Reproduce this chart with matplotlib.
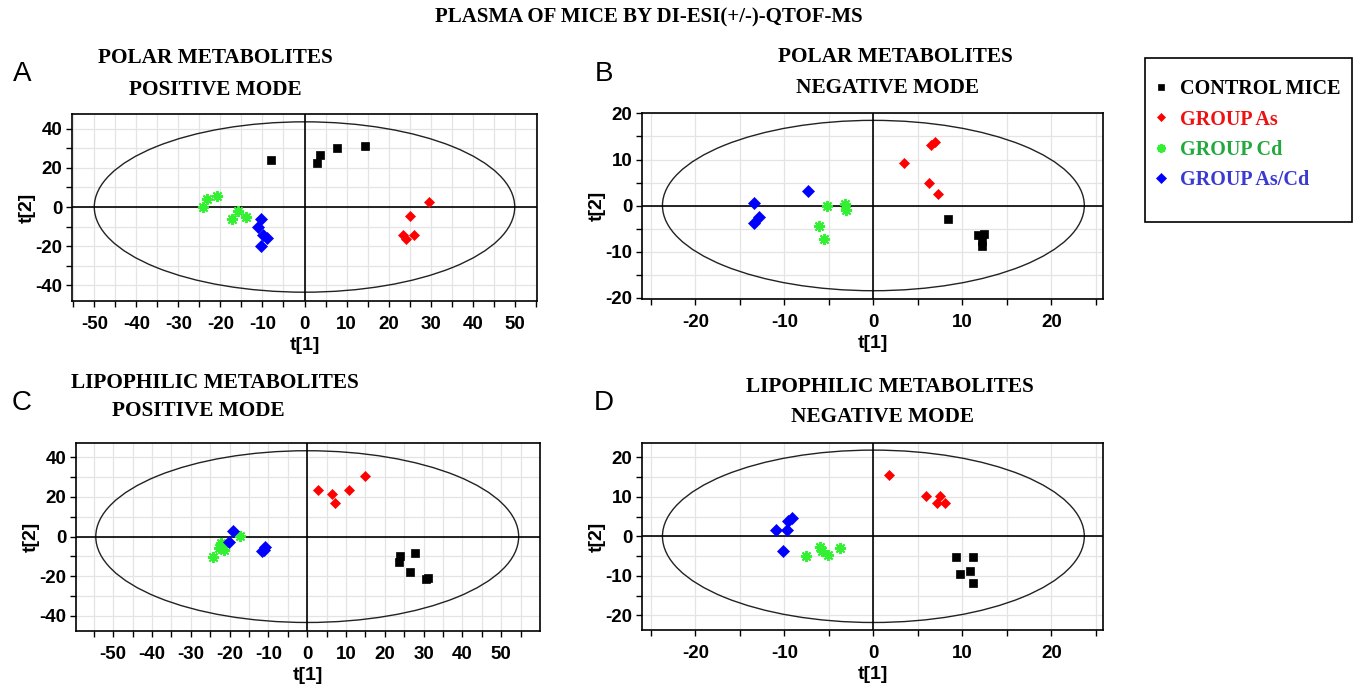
import numpy as np
import matplotlib
matplotlib.use('Agg')
import matplotlib.pyplot as plt
from matplotlib.patches import Ellipse, Rectangle
from matplotlib.lines import Line2D

# scores t[1], t[2]
# A: polar metabolites, positive mode
a_ctrl = [(-7.9, 23.9), (2.9, 22.7), (3.6, 26.8), (7.7, 30.3), (14.5, 31.0)]
a_as = [(29.7, 2.4), (25.2, -4.6), (23.4, -14.2), (24.1, -16.3), (26.0, -14.2)]
a_cd = [(-24.1, 0.2), (-23.2, 3.9), (-20.8, 5.6), (-15.7, -1.9), (-17.2, -6.3), (-13.9, -4.9)]
a_ascd = [(-10.3, -6.3), (-11.0, -10.3), (-9.9, -14.2), (-8.9, -15.9), (-10.3, -19.8)]
# B: polar metabolites, negative mode
b_ctrl = [(8.4, -2.9), (11.8, -6.4), (12.4, -6.1), (12.2, -7.6), (12.2, -8.7)]
b_as = [(3.4, 9.2), (6.5, 13.1), (6.9, 13.9), (6.3, 4.8), (7.3, 2.5)]
b_cd = [(-5.2, -0.1), (-3.2, 0.4), (-3.1, -0.9), (-6.1, -4.4), (-5.5, -7.3)]
b_ascd = [(-13.4, 0.5), (-12.9, -2.5), (-13.4, -3.8), (-7.3, 3.2)]
# C: lipophilic metabolites, positive mode
c_ctrl = [(24.0, -9.6), (23.7, -12.6), (27.7, -8.1), (26.6, -17.7), (30.7, -21.6), (31.1, -21.1)]
c_as = [(2.7, 23.3), (6.3, 21.4), (7.2, 17.0), (10.8, 23.3), (14.9, 30.7)]
c_cd = [(-17.2, 0.5), (-22.3, -3.4), (-22.7, -5.6), (-21.5, -6.7), (-24.4, -10.1), (-21.9, -4.5)]
c_ascd = [(-19.1, 3.0), (-20.2, -2.7), (-11.0, -5.4), (-11.6, -7.3), (-11.2, -6.7)]
# D: lipophilic metabolites, negative mode
d_ctrl = [(9.3, -5.3), (11.2, -5.3), (9.7, -9.6), (10.9, -8.9), (11.2, -11.7)]
d_as = [(1.8, 15.4), (5.9, 10.2), (7.5, 10.3), (7.2, 8.5), (8.1, 8.5)]
d_cd = [(-7.6, -5.1), (-6.0, -2.7), (-5.8, -3.8), (-5.1, -4.7), (-3.8, -3.0)]
d_ascd = [(-10.9, 1.7), (-9.7, 1.7), (-9.6, 3.8), (-9.2, 4.6), (-10.2, -3.6)]

group_names = ['CONTROL MICE', 'GROUP As', 'GROUP Cd', 'GROUP As/Cd']

W, H = 1354, 692
def box(l, t, r, b):
    return [l / W, 1 - b / H, (r - l) / W, (b - t) / H]

SANS = 'Liberation Sans'
SERIF = 'Liberation Serif'

styles = [dict(marker='s', color='black', ms=5.5),
          dict(marker='D', color='#ff0000', ms=5.5),
          dict(marker=(8, 2, 0), color='#33f033', ms=8, mew=1.4),
          dict(marker='D', color='#0000ff', ms=6)]

fig = plt.figure(figsize=(13.54, 6.92), dpi=100)


def panel(rect, groups, xlim, ylim, xmaj, xmin, ymaj, ymin, ell):
    ax = fig.add_axes(rect)
    ax.set_axisbelow(True)
    for pts, st in zip(groups, styles):
        xs = [p[0] for p in pts]
        ys = [p[1] for p in pts]
        kw = dict(st)
        ax.plot(xs, ys, linestyle='none', marker=kw.pop('marker'), color=kw.pop('color'),
                markersize=kw.pop('ms'), markeredgewidth=kw.pop('mew', 0.5), zorder=3)
    ax.add_patch(Ellipse((0, 0), 2 * ell[0], 2 * ell[1], fill=False, ec='#222222', lw=1.0, zorder=2))
    ax.axhline(0, color='black', lw=1.2, zorder=2)
    ax.axvline(0, color='black', lw=1.2, zorder=2)
    ax.set_xlim(*xlim)
    ax.set_ylim(*ylim)
    tk = dict(fontsize=13.5, fontweight='bold', family=SANS)
    ax.set_xticks(xmaj, labels=[str(v) for v in xmaj], **tk)
    ax.set_yticks(ymaj, labels=[str(v) for v in ymaj], **tk)
    ax.set_xticks(xmin, minor=True)
    ax.set_yticks(ymin, minor=True)
    ax.tick_params(which='both', direction='out', length=4, width=1)
    ax.tick_params(axis='x', pad=7)
    ax.tick_params(axis='y', pad=3)
    ax.grid(which='both', color='#e4e4e4', lw=0.9)
    for s in ax.spines.values():
        s.set_linewidth(1.2)
    ax.set_xlabel('t[1]', fontsize=14, fontweight='bold', family=SANS, labelpad=3)
    ax.set_ylabel('t[2]', fontsize=14, fontweight='bold', family=SANS, labelpad=0)
    return ax


ax_a = panel(box(72, 114, 537, 301), [a_ctrl, a_as, a_cd, a_ascd], (-55.3, 55.3), (-48, 47.5),
             np.arange(-50, 51, 10), np.arange(-55, 56, 5), np.arange(-40, 41, 20), np.arange(-40, 41, 10), (50, 43.5))
ax_b = panel(box(642, 113, 1103, 299), [b_ctrl, b_as, b_cd, b_ascd], (-26, 25.8), (-20.3, 20.1),
             np.arange(-20, 21, 10), np.arange(-25, 26, 5), np.arange(-20, 21, 10), np.arange(-20, 21, 5), (23.7, 18.5))
ax_c = panel(box(76, 443, 540, 631), [c_ctrl, c_as, c_cd, c_ascd], (-59.6, 60), (-47.6, 47.2),
             np.arange(-50, 51, 10), np.arange(-55, 56, 5), np.arange(-40, 41, 20), np.arange(-40, 41, 10), (54.5, 43.3))
ax_d = panel(box(642, 443, 1103, 630), [d_ctrl, d_as, d_cd, d_ascd], (-26, 25.8), (-23.7, 23.6),
             np.arange(-20, 21, 10), np.arange(-25, 26, 5), np.arange(-20, 21, 10), np.arange(-20, 21, 5), (23.7, 21.8))

# titles
fig.text(649 / W, 1 - 17 / H, 'PLASMA OF MICE BY DI-ESI(+/-)-QTOF-MS', ha='center', va='center',
         fontsize=15, fontweight='bold', family=SERIF)
titles = [(215, 58, 'POLAR METABOLITES'), (215, 90, 'POSITIVE MODE'),
          (895, 57, 'POLAR METABOLITES'), (888, 88, 'NEGATIVE MODE'),
          (215, 383, 'LIPOPHILIC METABOLITES'), (198, 411, 'POSITIVE MODE'),
          (890, 387, 'LIPOPHILIC METABOLITES'), (882, 417, 'NEGATIVE MODE')]
for x, y, s in titles:
    fig.text(x / W, 1 - y / H, s, ha='center', va='center', fontsize=15.3, fontweight='bold', family=SERIF)
for x, y, s in [(22, 74, 'A'), (604, 74, 'B'), (22, 403, 'C'), (604, 403, 'D')]:
    fig.text(x / W, 1 - y / H, s, ha='center', va='center', fontsize=20, family=SANS)

# legend
fig.add_artist(Rectangle((1145 / W, 1 - 222 / H), (1352 - 1145) / W, (222 - 58) / H,
                         transform=fig.transFigure, fill=False, ec='black', lw=1.2))
handles = []
for st in styles:
    handles.append(Line2D([], [], linestyle='none', marker=st['marker'], color=st['color'],
                          markersize=st['ms'] * 0.8, markeredgewidth=st.get('mew', 0.5)))
fig.legend(handles, group_names, loc='upper left', bbox_to_anchor=(1145 / W, 1 - 71 / H),
           frameon=False, prop=dict(family=SERIF, weight='bold', size=14.5),
           labelcolor=['black', '#ee1111', '#22a83c', '#3a3ad0'],
           handlelength=0.8, handletextpad=0.55, labelspacing=0.52, borderaxespad=0)

fig.savefig('out.png', dpi=100)
